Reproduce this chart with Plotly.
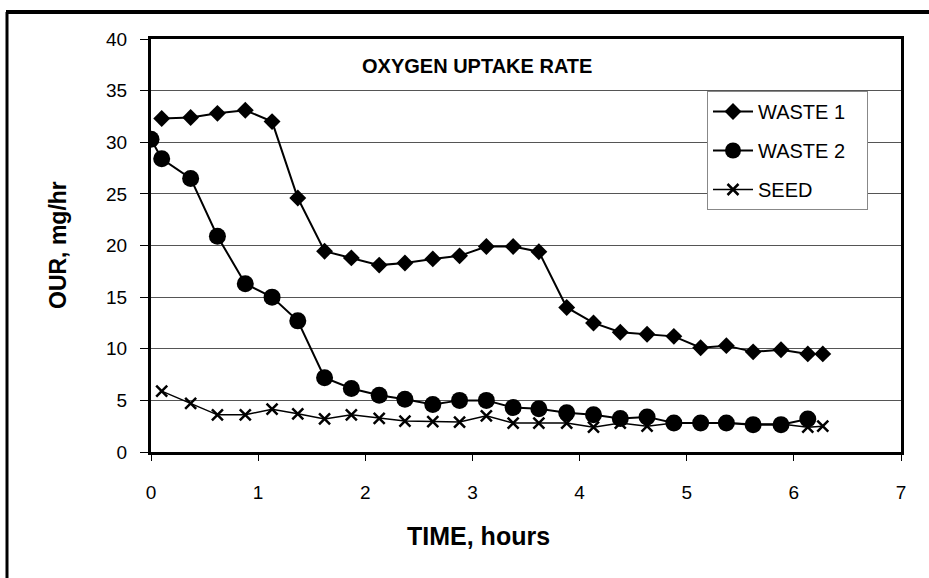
import plotly.graph_objects as go

# ---- data ----
time_w1 = [0.1, 0.37, 0.62, 0.88, 1.13, 1.37, 1.62, 1.87, 2.13, 2.37, 2.63, 2.88, 3.13,
           3.38, 3.62, 3.88, 4.13, 4.38, 4.63, 4.88, 5.13, 5.37, 5.62, 5.88, 6.13, 6.27]
waste1 = [32.3, 32.4, 32.8, 33.1, 32.0, 24.6, 19.45, 18.8, 18.1, 18.3, 18.7, 19.0, 19.9,
          19.9, 19.4, 14.0, 12.5, 11.6, 11.4, 11.2, 10.1, 10.3, 9.7, 9.9, 9.5, 9.5]

time_w2 = [0.0, 0.1, 0.37, 0.62, 0.88, 1.13, 1.37, 1.62, 1.87, 2.13, 2.37, 2.63, 2.88,
           3.13, 3.38, 3.62, 3.88, 4.13, 4.38, 4.63, 4.88, 5.13, 5.37, 5.62, 5.88, 6.13]
waste2 = [30.3, 28.4, 26.5, 20.9, 16.3, 15.0, 12.7, 7.2, 6.15, 5.5, 5.1, 4.6, 5.0,
          5.0, 4.3, 4.2, 3.8, 3.6, 3.25, 3.4, 2.8, 2.8, 2.8, 2.65, 2.65, 3.2]

time_seed = [0.1, 0.37, 0.62, 0.88, 1.13, 1.37, 1.62, 1.87, 2.13, 2.37, 2.63, 2.88, 3.13,
             3.38, 3.62, 3.88, 4.13, 4.38, 4.63, 4.88, 5.13, 5.37, 5.62, 5.88, 6.13, 6.27]
seed = [5.9, 4.7, 3.6, 3.6, 4.15, 3.7, 3.2, 3.6, 3.25, 3.0, 2.95, 2.9, 3.5,
        2.8, 2.8, 2.8, 2.4, 2.8, 2.5, 2.8, 2.8, 2.8, 2.7, 2.7, 2.4, 2.5]

series_names = ["WASTE 1", "WASTE 2", "SEED"]
x_ticks = [0, 1, 2, 3, 4, 5, 6, 7]
y_ticks = [0, 5, 10, 15, 20, 25, 30, 35, 40]

FONT = "Liberation Sans, Arial, sans-serif"
PAD = "&nbsp;&nbsp;&nbsp;"

fig = go.Figure()
fig.add_trace(go.Scatter(x=time_w1, y=waste1, name=series_names[0] + PAD, mode="lines+markers",
                         legendgroup="a",
                         line=dict(color="black", width=2),
                         marker=dict(symbol="diamond", size=13, color="black")))
fig.add_trace(go.Scatter(x=time_w2, y=waste2, name=series_names[1] + PAD, mode="lines+markers",
                         legendgroup="b",
                         line=dict(color="black", width=2),
                         marker=dict(symbol="circle", size=17, color="black")))
fig.add_trace(go.Scatter(x=time_seed, y=seed, name=series_names[2], mode="lines+markers",
                         legendgroup="c",
                         line=dict(color="black", width=1.5),
                         marker=dict(symbol="x-thin", size=11, color="black",
                                     line=dict(color="black", width=2.5))))

W, H = 929, 578
L, R, T, B = 151, 28, 39, 126
pw, ph = W - L - R, H - T - B


def px(x):
    return (x - L) / pw


def py(y):
    return (H - B - y) / ph


fig.update_layout(
    width=W, height=H,
    margin=dict(l=L, r=R, t=T, b=B),
    paper_bgcolor="white", plot_bgcolor="white",
    font=dict(family=FONT, color="black", size=18),
    showlegend=True,
    legend=dict(x=px(707), y=py(91), xanchor="left", yanchor="top",
                bgcolor="white", bordercolor="#888888", borderwidth=1,
                font=dict(size=20, family=FONT),
                traceorder="grouped", tracegroupgap=10, itemwidth=40),
    xaxis=dict(range=[0, 7], tickvals=x_ticks, ticktext=[str(v) for v in x_ticks],
               showgrid=False, zeroline=False,
               showline=True, linewidth=3, linecolor="black", mirror=True,
               ticks="outside", ticklen=6, tickwidth=1, tickcolor="black",
               ticklabelstandoff=15,
               tickfont=dict(size=19, family=FONT)),
    yaxis=dict(range=[0, 40], tickvals=y_ticks, ticktext=[str(v) for v in y_ticks],
               showgrid=True, gridcolor="#555555", gridwidth=1, zeroline=False,
               showline=True, linewidth=3, linecolor="black", mirror=True,
               ticks="outside", ticklen=8, tickwidth=1, tickcolor="black",
               ticklabelstandoff=9,
               tickfont=dict(size=19, family=FONT)),
    annotations=[
        dict(text="<b>OXYGEN UPTAKE RATE</b>", x=px(477), y=py(66), xref="paper", yref="paper",
             showarrow=False, font=dict(size=20, family=FONT), xanchor="center", yanchor="middle"),
        dict(text="<b>TIME, hours</b>", x=px(478), y=py(536), xref="paper", yref="paper",
             showarrow=False, font=dict(size=25, family=FONT), xanchor="center", yanchor="middle"),
        dict(text="<b>OUR, mg/hr</b>", x=px(58), y=py(245), xref="paper", yref="paper",
             showarrow=False, textangle=-90, font=dict(size=23, family=FONT),
             xanchor="center", yanchor="middle"),
    ],
    shapes=[
        dict(type="line", xref="paper", yref="paper", x0=px(7), x1=px(7), y0=py(12), y1=py(590),
             line=dict(color="black", width=3)),
        dict(type="line", xref="paper", yref="paper", x0=px(6), x1=px(935), y0=py(12), y1=py(12),
             line=dict(color="black", width=4)),
    ],
)

fig.write_html("out.html", config={"displayModeBar": False},
               post_script="document.body.style.margin='0';")
